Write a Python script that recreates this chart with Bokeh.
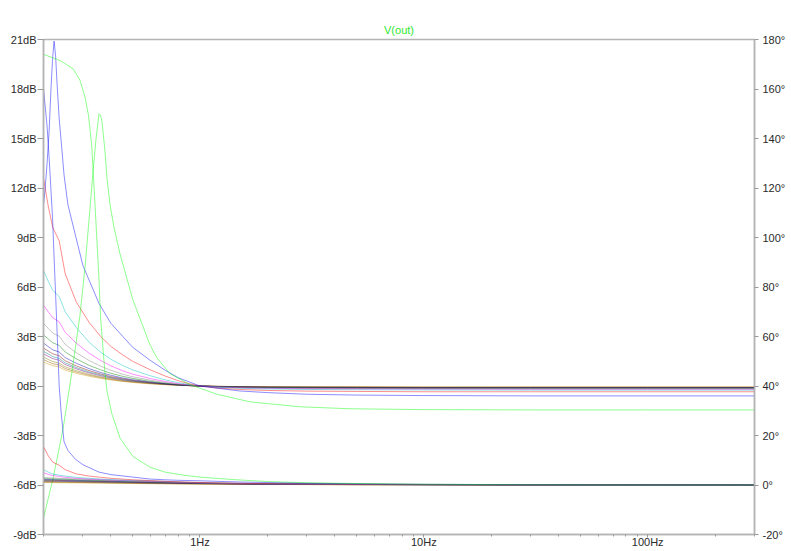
from bokeh.plotting import figure
from bokeh.models import Range1d, LinearAxis, FixedTicker, CustomJSTickFormatter
from bokeh.embed import file_html
from bokeh.resources import INLINE

# ---------------- data ----------------
TITLE = "V(out)"

# common frequency grid (Hz)
FREQ = [0.2, 0.21, 0.22, 0.235, 0.25, 0.28, 0.32, 0.36, 0.4, 0.45, 0.5, 0.6, 0.7,
        0.8, 0.9, 1.0, 1.2, 1.5, 2, 3, 5, 10, 30, 100, 300]

MAG_RED = [12.6, 10.9, 9.6, 8.8, 6.8, 5.1, 3.85, 3.0, 2.4, 1.9, 1.5, 0.98, 0.6,
           0.32, 0.13, 0.0, -0.13, -0.21, -0.27, -0.31, -0.33, -0.35, -0.35, -0.35, -0.35]
MAG_CYAN = [7.0, 6.35, 5.8, 5.42, 4.5, 3.55, 2.65, 2.05, 1.62, 1.25, 0.98, 0.62, 0.37,
            0.2, 0.08, 0.0, -0.08, -0.14, -0.18, -0.21, -0.23, -0.24, -0.25, -0.25, -0.25]
MAG_MAGENTA = [4.9, 4.5, 4.14, 3.89, 3.25, 2.6, 1.98, 1.55, 1.22, 0.93, 0.72, 0.45, 0.27,
               0.14, 0.06, 0.0, -0.06, -0.11, -0.14, -0.17, -0.18, -0.19, -0.2, -0.2, -0.2]
MAG_GRAY = [3.8, 3.49, 3.21, 3.02, 2.52, 2.02, 1.54, 1.2, 0.95, 0.72, 0.56, 0.35, 0.21,
            0.11, 0.05, 0.0, -0.05, -0.09, -0.12, -0.14, -0.15, -0.16, -0.17, -0.17, -0.17]
MAG_DKGREEN = [3.1, 2.85, 2.62, 2.46, 2.06, 1.65, 1.25, 0.98, 0.77, 0.59, 0.46, 0.28, 0.17,
               0.09, 0.04, 0.0, -0.04, -0.08, -0.1, -0.12, -0.13, -0.14, -0.14, -0.14, -0.14]
MAG_NAVY = [2.6, 2.39, 2.19, 2.06, 1.72, 1.38, 1.05, 0.82, 0.65, 0.49, 0.38, 0.24, 0.14,
            0.07, 0.03, 0.0, -0.04, -0.07, -0.09, -0.1, -0.11, -0.12, -0.12, -0.12, -0.12]
MAG_MAROON = [2.3, 2.12, 1.95, 1.83, 1.53, 1.22, 0.93, 0.73, 0.57, 0.44, 0.34, 0.21, 0.13,
              0.07, 0.03, 0.0, -0.03, -0.06, -0.08, -0.09, -0.1, -0.11, -0.11, -0.11, -0.11]
MAG_TEAL = [2.1, 1.94, 1.78, 1.67, 1.4, 1.12, 0.85, 0.67, 0.52, 0.4, 0.31, 0.19, 0.12,
            0.06, 0.03, 0.0, -0.03, -0.05, -0.07, -0.08, -0.09, -0.1, -0.1, -0.1, -0.1]
MAG_PURPLE = [1.95, 1.8, 1.66, 1.56, 1.3, 1.04, 0.79, 0.62, 0.49, 0.37, 0.29, 0.18, 0.11,
              0.06, 0.02, 0.0, -0.03, -0.05, -0.06, -0.07, -0.08, -0.09, -0.09, -0.09, -0.09]
MAG_OLIVE = [1.75, 1.61, 1.48, 1.39, 1.16, 0.93, 0.71, 0.55, 0.44, 0.33, 0.26, 0.16, 0.1,
             0.05, 0.02, 0.0, -0.02, -0.04, -0.05, -0.06, -0.07, -0.08, -0.08, -0.08, -0.08]
MAG_BROWN = [1.6, 1.47, 1.35, 1.27, 1.06, 0.85, 0.65, 0.51, 0.4, 0.3, 0.24, 0.15, 0.09,
             0.05, 0.02, 0.0, -0.02, -0.04, -0.05, -0.06, -0.06, -0.07, -0.07, -0.07, -0.07]
MAG_YELLOW = [1.45, 1.33, 1.23, 1.15, 0.96, 0.77, 0.59, 0.46, 0.36, 0.28, 0.21, 0.13, 0.08,
              0.04, 0.02, 0.0, -0.02, -0.03, -0.04, -0.05, -0.05, -0.06, -0.06, -0.06, -0.06]

PH_RED = [15.5, 11.8, 9.2, 8.0, 6.2, 4.5, 3.6, 3.1, 2.7, 2.4, 2.1, 1.8, 1.5,
          1.3, 1.15, 1.0, 0.85, 0.7, 0.55, 0.4, 0.3, 0.2, 0.1, 0.05, 0.0]
PH_CYAN = [6.2, 5.2, 4.4, 4.0, 3.6, 3.1, 2.7, 2.4, 2.2, 2.0, 1.9, 1.7, 1.4,
           1.2, 1.05, 0.9, 0.75, 0.6, 0.5, 0.35, 0.25, 0.15, 0.08, 0.03, 0.0]
PH_MAGENTA = [5.0, 4.3, 3.8, 3.5, 3.1, 2.7, 2.4, 2.2, 2.0, 1.85, 1.7, 1.5, 1.3,
              1.1, 0.95, 0.85, 0.7, 0.55, 0.45, 0.32, 0.22, 0.14, 0.07, 0.03, 0.0]

# coarse grid for the nearly flat phase traces
PH_FREQ = [0.2, 0.25, 0.3, 0.4, 0.6, 1.0, 2.0, 5.0, 20.0, 300.0]
PH_GRAY = [3.0, 2.6, 2.3, 1.9, 1.4, 0.9, 0.5, 0.3, 0.1, 0.0]
PH_DKGREEN = [2.6, 2.3, 2.0, 1.7, 1.25, 0.8, 0.45, 0.25, 0.1, 0.0]
PH_NAVY = [2.3, 2.0, 1.8, 1.5, 1.1, 0.7, 0.4, 0.22, 0.08, 0.0]
PH_MAROON = [2.0, 1.8, 1.6, 1.35, 1.0, 0.65, 0.35, 0.2, 0.07, 0.0]
PH_TEAL = [1.8, 1.6, 1.45, 1.2, 0.9, 0.6, 0.32, 0.18, 0.06, 0.0]
PH_PURPLE = [1.6, 1.45, 1.3, 1.1, 0.8, 0.55, 0.3, 0.16, 0.05, 0.0]
PH_OLIVE = [1.4, 1.25, 1.15, 0.95, 0.7, 0.48, 0.26, 0.14, 0.05, 0.0]
PH_BROWN = [1.2, 1.1, 1.0, 0.85, 0.62, 0.42, 0.23, 0.12, 0.04, 0.0]
PH_YELLOW = [1.0, 0.9, 0.82, 0.7, 0.52, 0.36, 0.2, 0.1, 0.03, 0.0]

# blue trace (sharp resonance)
BLUE_FREQ = [0.2, 0.2035, 0.2075, 0.212, 0.216, 0.2195, 0.223, 0.2265, 0.23, 0.235,
             0.24, 0.247, 0.257, 0.277, 0.3, 0.354, 0.4, 0.5, 0.6, 0.7,
             0.8, 1.0, 1.5, 2, 3, 5, 10, 30, 100, 300]
BLUE_MAG = [11.0, 12.0, 13.5, 15.5, 18.0, 19.8, 20.9, 20.0, 18.3, 16.2,
            14.8, 12.8, 11.0, 9.2, 7.3, 5.0, 3.8, 2.35, 1.55, 0.95,
            0.5, 0.0, -0.3, -0.4, -0.5, -0.55, -0.58, -0.6, -0.6, -0.6]
BLUE_PH = [160, 153, 145, 132, 119, 108, 92, 77, 62, 40,
           29, 17.5, 14.0, 10.5, 8.2, 5.2, 4.2, 3.2, 2.4, 2.1,
           1.9, 1.7, 1.2, 1.0, 0.7, 0.5, 0.3, 0.1, 0.0, 0.0]

# green trace (resonance near 0.35 Hz)
GREEN_MAG_FREQ = [0.2, 0.2207, 0.2445, 0.2683, 0.2912, 0.3065, 0.3228, 0.3329, 0.3434,
                  0.354, 0.3596, 0.3652, 0.3766, 0.3843, 0.3964, 0.4131, 0.4394, 0.502,
                  0.598, 0.6427, 0.7347, 0.9024, 1.191, 1.672, 2.796, 4.673, 10, 30,
                  100, 300]
GREEN_MAG = [-8.0, -5.6, -2.6, 0.9, 4.3, 7.2, 10.8, 13.0, 15.0,
             16.5, 16.4, 16.0, 14.2, 12.6, 11.0, 9.6, 8.0, 5.2,
             2.5, 1.7, 0.75, 0.08, -0.5, -0.96, -1.26, -1.38, -1.43, -1.45,
             -1.45, -1.45]
GREEN_PH_FREQ = [0.2, 0.2371, 0.2711, 0.2912, 0.3065, 0.3178, 0.3284, 0.3399, 0.3469,
                 0.354, 0.3596, 0.3689, 0.3766, 0.3843, 0.4046, 0.4394, 0.502, 0.598,
                 0.698, 0.8396, 1.0, 1.404, 1.991, 3.005, 5.022, 10, 30, 100, 300]
GREEN_PH = [174, 171.5, 168.2, 163.5, 156.7, 149.3, 137.2, 113, 98,
            83, 68, 55, 45, 38, 28.5, 19, 11.5, 7.2,
            5.2, 4.0, 3.2, 2.2, 1.4, 0.9, 0.6, 0.3, 0.1, 0.0, 0.0]

X_MAJOR = [1, 10, 100]
X_MINOR = [0.2, 0.3, 0.4, 0.5, 0.6, 0.7, 0.8, 0.9, 2, 3, 4, 5, 6, 7, 8, 9,
           20, 30, 40, 50, 60, 70, 80, 90, 200, 300]
DB_TICKS = [-9, -6, -3, 0, 3, 6, 9, 12, 15, 18, 21]
DEG_TICKS = [-20, 0, 20, 40, 60, 80, 100, 120, 140, 160, 180]

# ---------------- styling ----------------
FONT = "Liberation Sans"
AXIS_COL = "#b4b4b4"
LABEL_COL = "#2a2a2a"

p = figure(width=790, height=550, x_axis_type="log",
           x_range=Range1d(0.2, 300), y_range=Range1d(-9, 21),
           output_backend="svg", toolbar_location=None,
           min_border_left=43, min_border_right=36,
           min_border_top=39, min_border_bottom=15)
p.extra_y_ranges = {"phase": Range1d(-20, 180)}

p.title.text = TITLE
p.title.align = "center"
p.title.text_color = "#2ee82e"
p.title.text_font = FONT
p.title.text_font_size = "11px"
p.title.text_font_style = "normal"
p.title.standoff = 8

p.grid.visible = False
p.outline_line_color = AXIS_COL
p.outline_line_width = 1.5
p.background_fill_color = "white"
p.border_fill_color = "white"

def style_axis(ax, tick_out, standoff):
    ax.axis_line_color = AXIS_COL
    ax.axis_line_width = 1.5
    ax.major_tick_line_color = "#999999"
    ax.minor_tick_line_color = "#999999"
    ax.major_tick_in = 0
    ax.minor_tick_in = 0
    ax.major_tick_out = tick_out
    ax.minor_tick_out = 2
    ax.major_label_text_font = FONT
    ax.major_label_text_font_size = "11px"
    ax.major_label_text_color = LABEL_COL
    ax.major_label_standoff = standoff

xa = p.xaxis[0]
xa.ticker = FixedTicker(ticks=X_MAJOR, minor_ticks=X_MINOR)
xa.formatter = CustomJSTickFormatter(code="return tick + 'Hz';")
style_axis(xa, 3, -2)

ya = p.yaxis[0]
ya.ticker = FixedTicker(ticks=DB_TICKS)
ya.formatter = CustomJSTickFormatter(code="return tick + 'dB';")
style_axis(ya, 6, 1)

ra = LinearAxis(y_range_name="phase")
ra.ticker = FixedTicker(ticks=DEG_TICKS)
ra.formatter = CustomJSTickFormatter(code="return tick + '\u00b0';")
style_axis(ra, 4, 4)
p.add_layout(ra, "right")

ALPHA = 0.45

mag_series = [
    (FREQ, MAG_YELLOW, "#c8a000"),
    (FREQ, MAG_BROWN, "#a05000"),
    (FREQ, MAG_OLIVE, "#808000"),
    (FREQ, MAG_PURPLE, "#800080"),
    (FREQ, MAG_TEAL, "#008080"),
    (FREQ, MAG_MAROON, "#800000"),
    (FREQ, MAG_NAVY, "#0000b0"),
    (FREQ, MAG_DKGREEN, "#008000"),
    (FREQ, MAG_GRAY, "#808080"),
    (FREQ, MAG_MAGENTA, "#ff00ff"),
    (FREQ, MAG_CYAN, "#00bfbf"),
    (FREQ, MAG_RED, "#ff0000"),
    (BLUE_FREQ, BLUE_MAG, "#0000ff"),
    (GREEN_MAG_FREQ, GREEN_MAG, "#00ff00"),
]
for fx, fy, col in mag_series:
    p.line(fx, fy, line_color=col, line_width=1, line_alpha=ALPHA)

ph_series = [
    (PH_FREQ, PH_YELLOW, "#c8a000"),
    (PH_FREQ, PH_BROWN, "#a05000"),
    (PH_FREQ, PH_OLIVE, "#808000"),
    (PH_FREQ, PH_PURPLE, "#800080"),
    (PH_FREQ, PH_TEAL, "#008080"),
    (PH_FREQ, PH_MAROON, "#800000"),
    (PH_FREQ, PH_NAVY, "#0000b0"),
    (PH_FREQ, PH_DKGREEN, "#008000"),
    (PH_FREQ, PH_GRAY, "#808080"),
    (FREQ, PH_MAGENTA, "#ff00ff"),
    (FREQ, PH_CYAN, "#00bfbf"),
    (FREQ, PH_RED, "#ff0000"),
    (BLUE_FREQ, BLUE_PH, "#0000ff"),
    (GREEN_PH_FREQ, GREEN_PH, "#00ff00"),
]
for fx, fy, col in ph_series:
    p.line(fx, fy, line_color=col, line_width=1, line_alpha=ALPHA,
           y_range_name="phase")

open("out.html", "w").write(file_html(p, INLINE))
